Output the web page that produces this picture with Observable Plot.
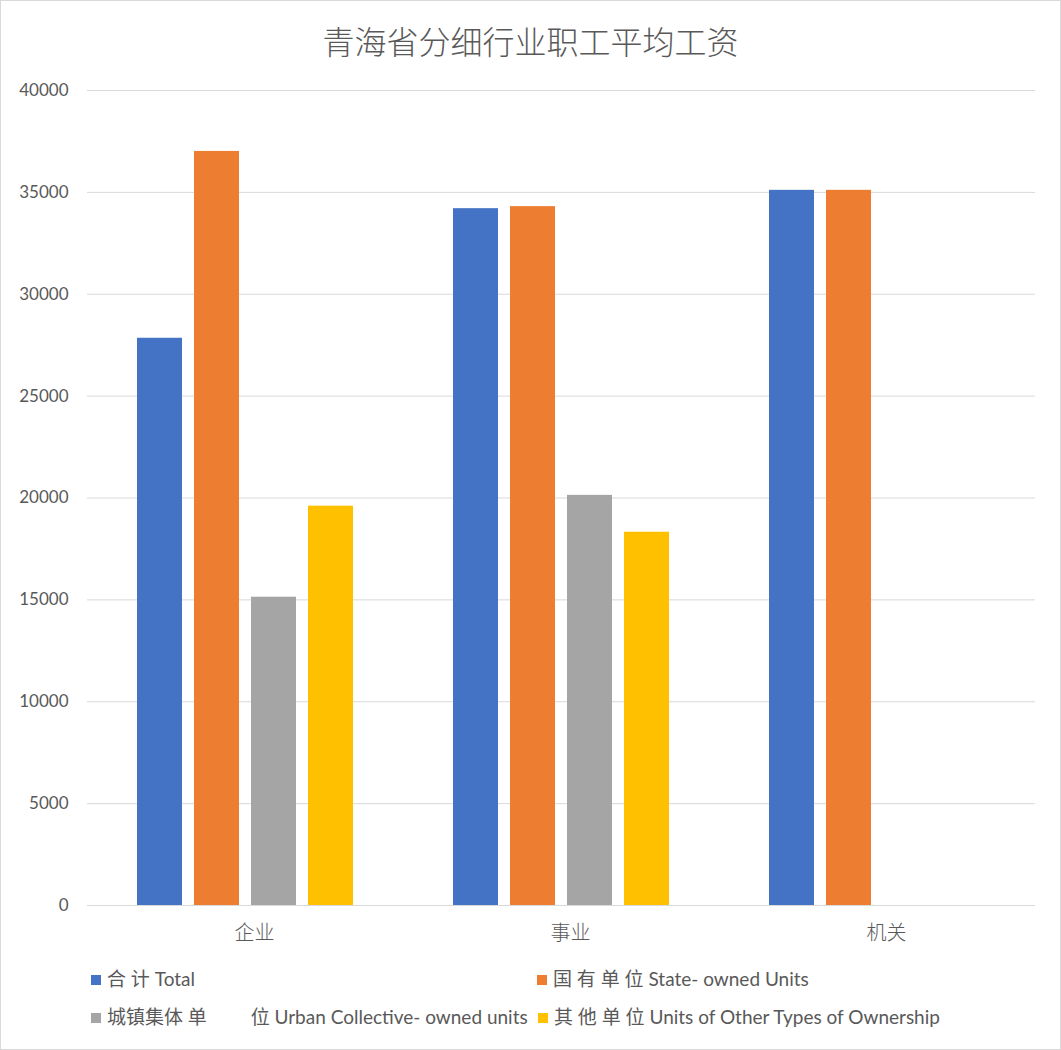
<!DOCTYPE html>
<html>
<head>
<meta charset="utf-8">
<script src="https://cdn.jsdelivr.net/npm/d3@7"></script>
<script src="https://cdn.jsdelivr.net/npm/@observablehq/plot@0.6"></script>
<style>
  html, body { margin: 0; padding: 0; background: #fff; }
  #wrap { position: relative; width: 1061px; height: 1050px; overflow: hidden; background: #fff;
          font-family: Lato, "Noto Sans CJK SC", sans-serif; color: #595959; }
  #frame { position: absolute; left: 0; top: 0; width: 1059px; height: 1048px; border: 1px solid #d9d9d9; pointer-events: none; }
  #title { position: absolute; left: 0; top: 18px; width: 1061px; text-align: center; font-size: 32px;
           font-family: "Noto Sans CJK SC", sans-serif; font-weight: 300; color: #595959; line-height: 44px; }
  #chart { position: absolute; left: 0; top: 70px; }
  .leg { position: absolute; font-size: 19px; line-height: 22px; white-space: pre; color: #595959; }
  .sw { position: absolute; width: 10px; height: 10px; }
</style>
</head>
<body>
<div id="wrap">
  <div id="title"></div>
  <div id="chart"></div>
  <div id="legend"></div>
  <div id="frame"></div>
</div>
<script>
const title = "青海省分细行业职工平均工资";
const categories = ["企业", "事业", "机关"];
const seriesNames = [
  "合 计 Total",
  "国 有 单 位 State- owned Units",
  "城镇集体 单         位 Urban Collective- owned units",
  "其 他 单 位 Units of Other Types of Ownership"
];
const colors = ["#4472C4", "#ED7D31", "#A5A5A5", "#FFC000"];
const totalValues = [27840, 34200, 35100];
const stateValues = [37010, 34300, 35100];
const urbanValues = [15130, 20130, null];
const otherValues = [19600, 18320, null];
const yTicks = [0, 5000, 10000, 15000, 20000, 25000, 30000, 35000, 40000];

const seriesValues = [totalValues, stateValues, urbanValues, otherValues];
const data = [];
categories.forEach((c, i) => {
  seriesNames.forEach((s, j) => {
    const v = seriesValues[j][i];
    if (v != null) data.push({category: c, series: s, value: v});
  });
});

document.getElementById("title").textContent = title;

const chart = Plot.plot({
  width: 1061,
  height: 880,
  marginLeft: 86,
  marginRight: 26,
  marginTop: 20,
  marginBottom: 45,
  style: {fontFamily: 'Lato, "Noto Sans CJK SC", sans-serif', background: "transparent"},
  fx: {domain: categories, padding: 0, label: null},
  x: {domain: seriesNames, paddingInner: 0.21, paddingOuter: 0.855, axis: null},
  y: {domain: [0, 40000], label: null},
  color: {domain: seriesNames, range: colors},
  marks: [
    Plot.gridY(yTicks, {stroke: "#d9d9d9", strokeOpacity: 1, strokeWidth: 1}),
    Plot.axisY(yTicks, {tickSize: 0, tickPadding: 19, tickFormat: d => String(d), fontSize: 17, fill: "#595959", label: null}),
    Plot.barY(data, {fx: "category", x: "series", y: "value", fill: "series"}),
    Plot.ruleY([0], {stroke: "#d9d9d9", strokeWidth: 1}),
    Plot.axisFx({anchor: "bottom", tickSize: 0, tickPadding: 20, fontSize: 20, fill: "#595959", label: null, dx: 9,
                 fontFamily: '"Noto Sans CJK SC", sans-serif', fontWeight: 300})
  ]
});
document.getElementById("chart").appendChild(chart);

// legend
const legendPos = [
  {x: 91, y: 980}, {x: 537, y: 980}, {x: 91, y: 1018}, {x: 538, y: 1018}
];
const legend = document.getElementById("legend");
seriesNames.forEach((s, i) => {
  const p = legendPos[i];
  const sw = document.createElement("div");
  sw.className = "sw";
  sw.style.left = p.x + "px";
  sw.style.top = (p.y - 5) + "px";
  sw.style.background = colors[i];
  legend.appendChild(sw);
  const t = document.createElement("div");
  t.className = "leg";
  t.style.left = (p.x + 16) + "px";
  t.style.top = (p.y - 12) + "px";
  t.textContent = s;
  legend.appendChild(t);
});
</script>
</body>
</html>
